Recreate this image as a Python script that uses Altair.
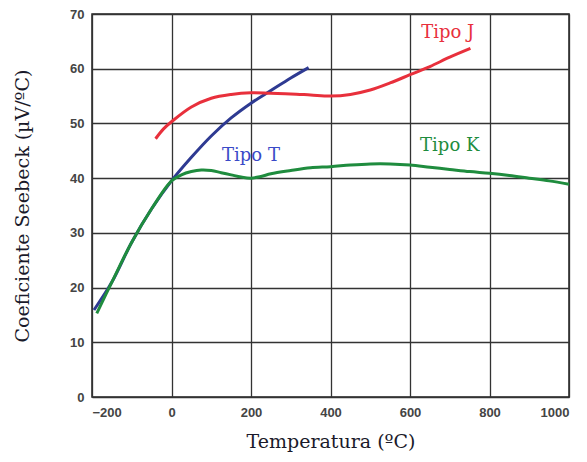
import altair as alt
import pandas as pd

# Tipo T
t_x = [-195, -150, -100, -50, 0, 50, 100, 150, 200, 250, 300, 345]
t_y = [15.9, 21.0, 28.3, 34.4, 39.5, 43.8, 47.7, 51.0, 53.7, 56.0, 58.3, 60.2]
# Tipo J
j_x = [-40, -20, 0, 50, 100, 150, 200, 250, 300, 350, 400, 450, 500, 550, 600, 650, 700, 752]
j_y = [47.2, 49.0, 50.3, 53.0, 54.6, 55.3, 55.6, 55.5, 55.4, 55.2, 55.0, 55.3, 56.1, 57.4, 58.9, 60.4, 62.1, 63.7]
# Tipo K
k_x = [-188, -150, -100, -50, 0, 25, 50, 75, 100, 125, 150, 175, 200, 225, 250, 300, 350,
       400, 450, 500, 550, 600, 650, 700, 750, 800, 850, 900, 950, 1000]
k_y = [15.3, 21.0, 28.3, 34.4, 39.5, 40.6, 41.2, 41.5, 41.4, 41.0, 40.6, 40.2, 40.0, 40.3, 40.8,
       41.4, 41.9, 42.1, 42.4, 42.6, 42.6, 42.4, 42.0, 41.6, 41.2, 40.9, 40.5, 40.0, 39.5, 38.9]

series = ["Tipo T", "Tipo J", "Tipo K"]
colors = ["#2e3a92", "#e8303c", "#1f8c3e"]

label_text = ["Tipo J", "Tipo T", "Tipo K"]
label_x = [695, 200, 700]
label_y = [66.6, 44.0, 45.9]
label_color = ["#e8303c", "#3a4ac8", "#1f8c3e"]

rows = []
for name, xs, ys in [("Tipo T", t_x, t_y), ("Tipo J", j_x, j_y), ("Tipo K", k_x, k_y)]:
    for x, y in zip(xs, ys):
        rows.append({"serie": name, "temp": x, "coef": y})
df = pd.DataFrame(rows)
labels = pd.DataFrame({"text": label_text, "x": label_x, "y": label_y, "c": label_color})

xscale = alt.Scale(domain=[-200, 1000], nice=False, zero=False)
yscale = alt.Scale(domain=[0, 70], nice=False)

lines = alt.Chart(df).mark_line(strokeWidth=3, interpolate="catmull-rom").encode(
    x=alt.X("temp:Q", scale=xscale,
            axis=alt.Axis(title="Temperatura (ºC)", values=[-200, 0, 200, 400, 600, 800, 1000],
                          format="d",
                          labelExpr="replace(datum.label, '-', '\u2013')")),
    y=alt.Y("coef:Q", scale=yscale,
            axis=alt.Axis(title="Coeficiente Seebeck (µV/ºC)", values=[0, 10, 20, 30, 40, 50, 60, 70])),
    color=alt.Color("serie:N", scale=alt.Scale(domain=series, range=colors), legend=None),
    order=alt.Order("temp:Q"),
    detail="serie:N",
)

text = alt.Chart(labels).mark_text(font="DejaVu Serif", fontSize=18, align="center", baseline="middle").encode(
    x=alt.X("x:Q", scale=xscale),
    y=alt.Y("y:Q", scale=yscale),
    color=alt.Color("c:N", scale=None),
    text="text:N",
)

chart = alt.layer(lines, text).properties(
    width=477, height=383,
    autosize=alt.AutoSizeParams(type="none"),
    padding={"left": 84, "top": 6, "right": 10, "bottom": 57},
).configure_view(
    stroke="#222", strokeWidth=1.5
).configure_axis(
    grid=True, gridColor="#333", gridWidth=1.3, gridOpacity=1,
    domain=False, ticks=False,
    labelFont="Liberation Sans", labelFontSize=13, labelFontWeight="bold", labelColor="#444",
    titleFont="DejaVu Serif", titleFontSize=19, titleFontWeight="normal", titleColor="#1a1a2a",
).configure_axisX(
    labelPadding=9, titlePadding=13
).configure_axisY(
    labelPadding=8, titlePadding=37
)

chart.save("out.html", embed_options={"renderer": "svg", "actions": False})
